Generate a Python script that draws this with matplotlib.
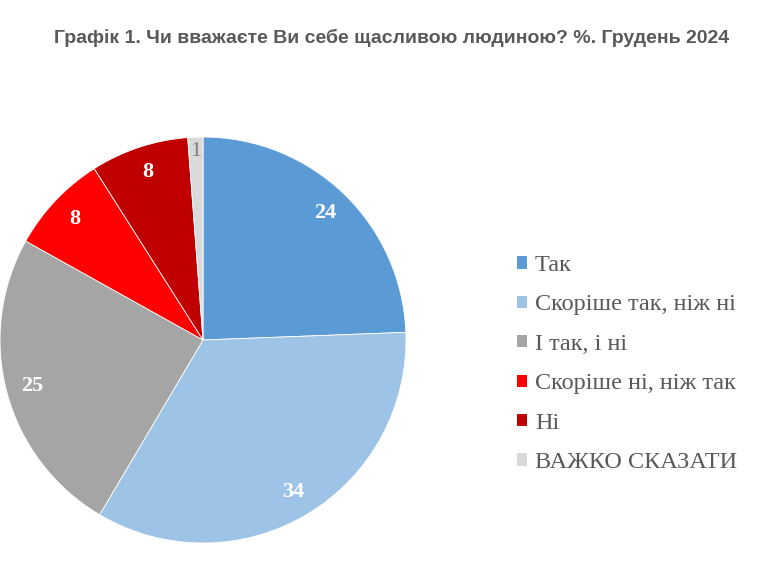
import matplotlib
matplotlib.use('Agg')
import matplotlib.pyplot as plt
from matplotlib.patches import Patch

labels = ['Так', 'Скоріше так, ніж ні', 'І так, і ні', 'Скоріше ні, ніж так', 'Ні', 'ВАЖКО СКАЗАТИ']
# slice sizes, printed labels are the rounded ones
values = [24.4, 34.1, 24.6, 7.9, 7.8, 1.2]
shown = ['24', '34', '25', '8', '8', '1']
colors = ['#5B9BD5', '#9DC3E6', '#A5A5A5', '#FF0000', '#C00000', '#D9D9D9']

fig = plt.figure(figsize=(7.76, 5.86), dpi=100)
fig.text(0.505, 1 - 38 / 586, 'Графік 1. Чи вважаєте Ви себе щасливою людиною? %. Грудень 2024',
         ha='center', va='center', fontsize=14, fontweight='bold',
         family='Liberation Sans', color='#595959')

ax = fig.add_axes([0, 43 / 586, 406 / 776, 406 / 586])
wedges, texts = ax.pie(values, colors=colors, startangle=90, counterclock=False,
                       labels=shown, labeldistance=0.87,
                       wedgeprops=dict(edgecolor='white', linewidth=0.6))
for t in texts:
    t.set_family('Liberation Serif')
    t.set_fontweight('bold')
    t.set_fontsize(16)
    t.set_color('white')
    t.set_ha('center')
    t.set_va('center')
# small slice label
x, y = texts[-1].get_position()
texts[-1].set_position((x * 0.93 / 0.87, y * 0.93 / 0.87))
texts[-1].set_fontweight('normal')
texts[-1].set_color('#7F7F7F')
ax.set_xlim(-1, 1)
ax.set_ylim(-1, 1)
ax.set_aspect('equal')
ax.axis('off')

handles = [Patch(facecolor=c, edgecolor='none') for c in colors]
leg = fig.legend(handles, labels, loc='upper left', bbox_to_anchor=(517 / 776, 1 - 255 / 586),
                 frameon=False, prop={'family': 'Liberation Serif', 'size': 17.5},
                 handlelength=0.41, handleheight=0.41, handletextpad=0.33,
                 labelspacing=0.76, borderpad=0, borderaxespad=0)
for t in leg.get_texts():
    t.set_color('#595959')

fig.savefig('out.png', dpi=100)
